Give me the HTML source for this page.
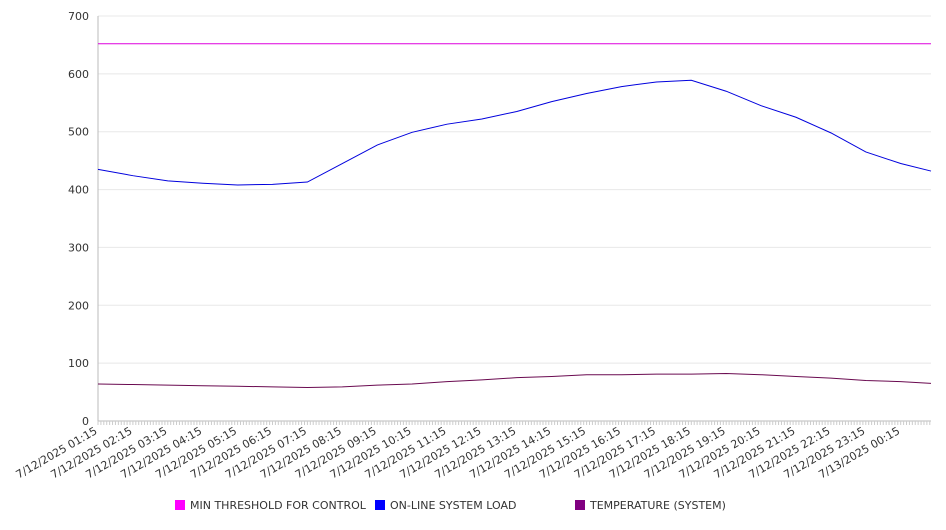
<!DOCTYPE html>
<html><head><meta charset="utf-8"><style>
body{margin:0;background:#fff;font-family:"DejaVu Sans","Liberation Sans",sans-serif;}
svg text{font-family:"DejaVu Sans","Liberation Sans",sans-serif;fill:#333;}
</style></head><body>
<svg id="chart" width="946" height="526"></svg>
<script>
const hourLabels=["7/12/2025 01:15","7/12/2025 02:15","7/12/2025 03:15","7/12/2025 04:15","7/12/2025 05:15","7/12/2025 06:15","7/12/2025 07:15","7/12/2025 08:15","7/12/2025 09:15","7/12/2025 10:15","7/12/2025 11:15","7/12/2025 12:15","7/12/2025 13:15","7/12/2025 14:15","7/12/2025 15:15","7/12/2025 16:15","7/12/2025 17:15","7/12/2025 18:15","7/12/2025 19:15","7/12/2025 20:15","7/12/2025 21:15","7/12/2025 22:15","7/12/2025 23:15","7/13/2025 00:15"];
const yTicks=[0,100,200,300,400,500,600,700];
const loadValues=[435,424,415,411,408,409,413,445,477,499,513,522,535,552,566,578,586,589,570,545,525,498,465,445,432];
const tempValues=[64,63,62,61,60,59,58,59,62,64,68,71,75,77,80,80,81,81,82,80,77,74,70,68,65];
const thresholdValues=[652,652];
const legendNames=["MIN THRESHOLD FOR CONTROL","ON-LINE SYSTEM LOAD","TEMPERATURE (SYSTEM)"];
const legendColors=["#ff00ff","#0000ff","#800080"];
const X0=98,X1=931,Y0=421,Y1=16,HW=34.9,YMAX=700;
const ns="http://www.w3.org/2000/svg",svg=document.getElementById('chart');
function xh(h){return X0+h*HW;}
function y(v){return Y0-(v/YMAX)*(Y0-Y1);}
function mk(t,a,p){const e=document.createElementNS(ns,t);for(const k in a)e.setAttribute(k,a[k]);(p||svg).appendChild(e);return e;}
yTicks.forEach(v=>{
 const g=mk('line',{x1:X0,x2:X1,y1:y(v),y2:y(v),stroke:v===0?'#bbb':'#e8e8e8'});
 
 
 const t=mk('text',{x:89,y:y(v)+4,'text-anchor':'end','font-size':11});
 t.textContent=v;
 
 
});
const ax=mk('line',{x1:X0,x2:X0,y1:Y1,y2:Y0,stroke:'#bbb'});


for(let i=0;i<=23*12+10;i++){const xx=X0+i*HW/12;if(xx>X1)break;
 const tk=mk('line',{x1:xx,x2:xx,y1:Y0,y2:Y0+4,stroke:'#ccc'});
 
 }
hourLabels.forEach((l,i)=>{
 const t=mk('text',{x:xh(i),y:Y0+12,'text-anchor':'end','font-size':11,transform:`rotate(-30 ${xh(i)} ${Y0+12})`});
 t.textContent=l;
 
 
});
function xs(arr){const n=arr.length;return arr.map((v,i)=>i<n-1?xh(i):X1);}
function series(arr,col,name){const px=xs(arr);
 const p=mk('polyline',{points:arr.map((v,i)=>px[i]+','+y(v)).join(' '),fill:'none',stroke:col,'stroke-width':1});
 
 }
const th=mk('line',{x1:X0,x2:X1,y1:y(thresholdValues[0]),y2:y(thresholdValues[1]),stroke:'#dd00dd','stroke-width':1});


series(loadValues,'#0000dd','load-line');
series(tempValues,'#6a0a50','temperature-line');
const lx=[175,375,575];
legendNames.forEach((n,i)=>{
 const g=mk('g',{});
 
 
 mk('rect',{x:lx[i],y:500,width:10,height:10,fill:legendColors[i]},g);
 const t=mk('text',{x:lx[i]+15,y:509,'font-size':11},g);t.textContent=n;
});
</script>
</body></html>
